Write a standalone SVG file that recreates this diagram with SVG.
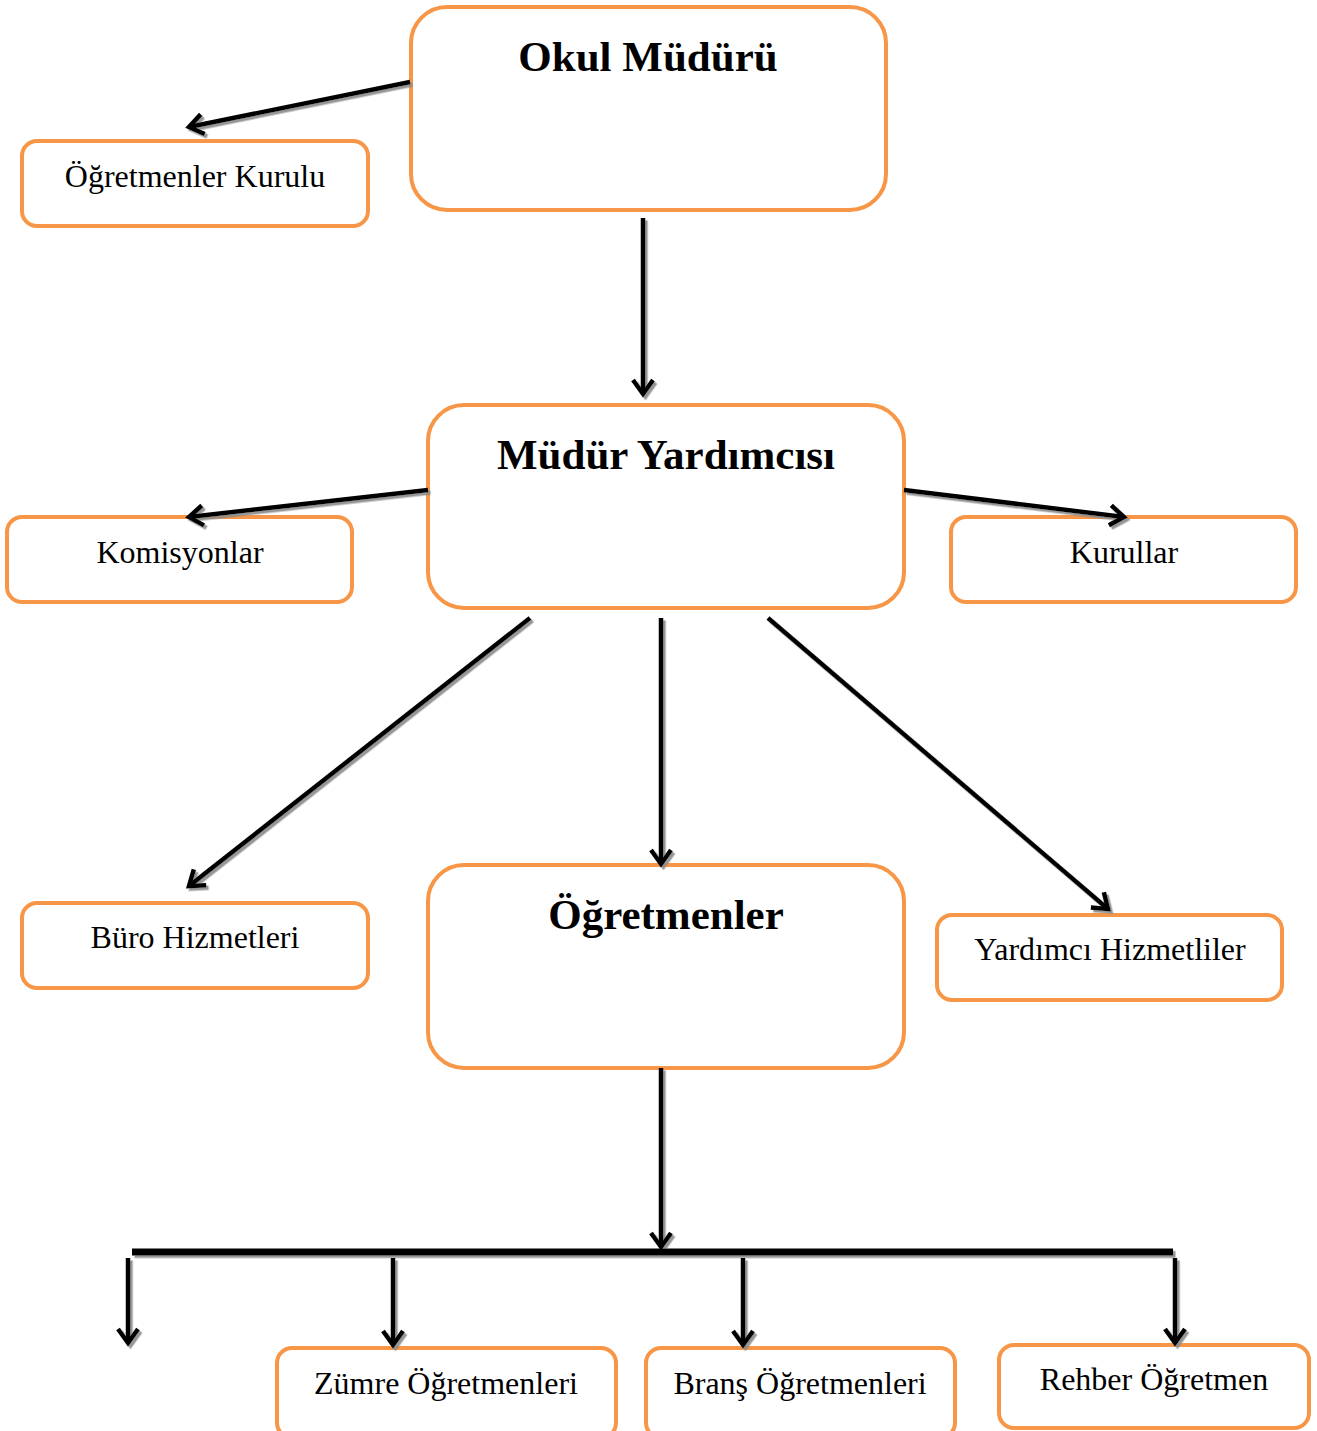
<svg xmlns="http://www.w3.org/2000/svg" width="1317" height="1431" viewBox="0 0 1317 1431">
<style>
.box{fill:#fff;stroke:#F79646;stroke-width:4}
.t{font-family:"Liberation Serif","Times New Roman",serif;font-size:32px;fill:#000;text-anchor:middle}
.b{font-family:"Liberation Serif","Times New Roman",serif;font-size:43px;font-weight:bold;fill:#000;text-anchor:middle}
.c{stroke:#000;stroke-width:4.5;fill:none}
</style>
<defs>
<marker id="ah" markerUnits="userSpaceOnUse" markerWidth="34" markerHeight="34" viewBox="-17 -17 34 34" refX="0" refY="0" orient="auto">
<path d="M-14,-10 L0,0 L-14,10" fill="none" stroke="#000" stroke-width="4.5"/>
</marker>
<filter id="sh" x="-10%" y="-10%" width="120%" height="120%">
<feDropShadow dx="2.5" dy="2.5" stdDeviation="0.6" flood-color="#8a8a8a" flood-opacity="0.9"/>
</filter>
</defs>
<g id="n1"><rect class="box" x="411" y="7" width="475" height="203" rx="36"/><text class="b" x="648" y="71">Okul Müdürü</text></g>
<g id="n2"><rect class="box" x="22" y="141" width="346" height="85" rx="15"/><text class="t" x="195" y="187">Öğretmenler Kurulu</text></g>
<g id="n3"><rect class="box" x="428" y="405" width="476" height="203" rx="36"/><text class="b" x="666" y="469">Müdür Yardımcısı</text></g>
<g id="n4"><rect class="box" x="7" y="517" width="345" height="85" rx="15"/><text class="t" x="180" y="563">Komisyonlar</text></g>
<g id="n5"><rect class="box" x="951" y="517" width="345" height="85" rx="15"/><text class="t" x="1124" y="563">Kurullar</text></g>
<g id="n6"><rect class="box" x="22" y="903" width="346" height="85" rx="15"/><text class="t" x="195" y="948">Büro Hizmetleri</text></g>
<g id="n7"><rect class="box" x="428" y="865" width="476" height="203" rx="36"/><text class="b" x="666" y="929">Öğretmenler</text></g>
<g id="n8"><rect class="box" x="937" y="915" width="345" height="85" rx="15"/><text class="t" x="1110" y="960">Yardımcı Hizmetliler</text></g>
<g id="n9"><rect class="box" x="277" y="1348" width="339" height="90" rx="15"/><text class="t" x="446" y="1394">Zümre Öğretmenleri</text></g>
<g id="n10"><rect class="box" x="646" y="1348" width="309" height="90" rx="15"/><text class="t" x="800" y="1394">Branş Öğretmenleri</text></g>
<g id="n11"><rect class="box" x="999" y="1345" width="310" height="83" rx="15"/><text class="t" x="1154" y="1390">Rehber Öğretmen</text></g>
<g id="connectors" filter="url(#sh)">
<line class="c" x1="410" y1="82" x2="189" y2="127" marker-end="url(#ah)"/>
<line class="c" x1="643" y1="218" x2="643" y2="394" marker-end="url(#ah)"/>
<line class="c" x1="428" y1="490" x2="189" y2="517" marker-end="url(#ah)"/>
<line class="c" x1="904" y1="490" x2="1124" y2="517" marker-end="url(#ah)"/>
<line class="c" x1="530" y1="618" x2="189" y2="886" marker-end="url(#ah)"/>
<line class="c" x1="661" y1="618" x2="661" y2="864" marker-end="url(#ah)"/>
<line class="c" x1="768" y1="618" x2="1108" y2="909" marker-end="url(#ah)"/>
<line class="c" x1="661" y1="1068" x2="661" y2="1247" marker-end="url(#ah)"/>
<line x1="132" y1="1252" x2="1173" y2="1252" stroke="#000" stroke-width="7"/>
<line class="c" x1="128" y1="1258" x2="128" y2="1343" marker-end="url(#ah)"/>
<line class="c" x1="393" y1="1258" x2="393" y2="1345" marker-end="url(#ah)"/>
<line class="c" x1="743" y1="1258" x2="743" y2="1345" marker-end="url(#ah)"/>
<line class="c" x1="1175" y1="1258" x2="1175" y2="1343" marker-end="url(#ah)"/>
</g>
</svg>
